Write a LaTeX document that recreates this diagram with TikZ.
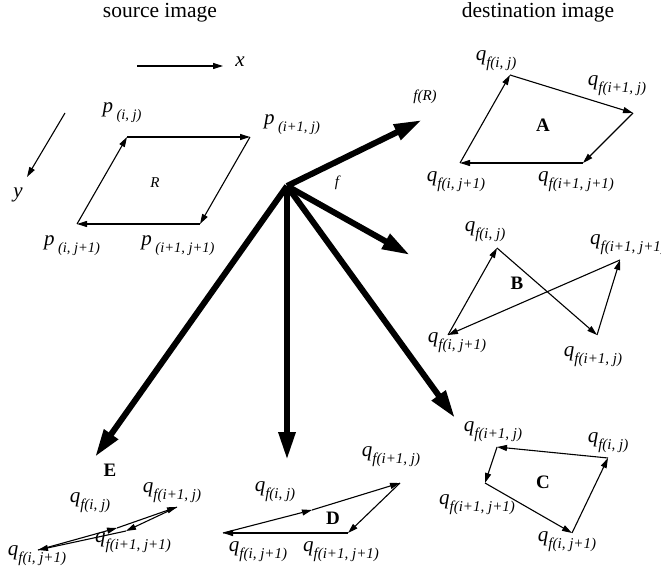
\documentclass[tikz,border=0pt]{standalone}
\usepackage{fontspec}
\setmainfont{Liberation Serif}
\usetikzlibrary{arrows.meta}
\newcommand{\qf}[1]{\textit{q}\raisebox{-7pt}{\fontsize{15}{15}\selectfont\textit{f(#1)}}}
\newcommand{\pix}[1]{\textit{p}\,\raisebox{-7pt}{\fontsize{14.5}{15}\selectfont\textit{(#1)}}}

\begin{document}
\begin{tikzpicture}[x=1pt,y=-1pt,
lbl/.style={inner sep=0pt, font=\fontsize{21}{22}\selectfont},
title/.style={inner sep=0pt, anchor=base, font=\fontsize{21.5}{22}\selectfont},
tag/.style={inner sep=0pt, font=\fontsize{19}{20}\selectfont\bfseries},
small/.style={inner sep=0pt, font=\fontsize{15}{16}\selectfont\itshape},
edge/.style={-{Triangle[length=10pt,width=6pt]}, line width=1.1pt},
map/.style={-{Triangle[length=28pt,width=16pt]}, line width=6pt}
]
\useasboundingbox (0,0) rectangle (661,572);

\node[title] (src) at (160,18) {source image};
\node[title] (dst) at (538,18) {destination image};

\coordinate (x0) at (137,66);
\coordinate (x1) at (223,66);
\node[lbl, font=\fontsize{21}{22}\selectfont\itshape] (xl) at (240,62) {x};
\coordinate (y0) at (65,113);
\coordinate (y1) at (27,177);
\node[lbl, font=\fontsize{21}{22}\selectfont\itshape] (yl) at (18,195) {y};
\draw[edge] (x0) -- (x1);
\draw[edge] (y0) -- (y1);

\coordinate (p00) at (127,137);
\coordinate (p10) at (250,137);
\coordinate (p11) at (200,224);
\coordinate (p01) at (77,224);
\node[lbl] (lp00) at (122,113) {\pix{i, j}};
\node[lbl] (lp10) at (292,125) {\pix{i+1, j}};
\node[lbl] (lp01) at (72,246) {\pix{i, j+1}};
\node[lbl] (lp11) at (178,246) {\pix{i+1, j+1}};
\node[small] (r) at (155,183) {R};
\draw[edge] (p01) -- (p00);
\draw[edge] (p00) -- (p10);
\draw[edge] (p10) -- (p11);
\draw[edge] (p11) -- (p01);

\coordinate (fc) at (287,186);
\coordinate (ta) at (422,120);
\coordinate (tb) at (410,255);
\coordinate (tc) at (455,418);
\coordinate (td) at (287,460);
\coordinate (te) at (95,457);
\node[small] (fr) at (425,97) {f(R)};
\node[small] (fl) at (337,183) {f};
\draw[map] (fc) -- (ta);
\draw[map] (fc) -- (tb);
\draw[map] (fc) -- (tc);
\draw[map] (fc) -- (td);
\draw[map] (fc) -- (te);

\coordinate (a00) at (510,75);
\coordinate (a10) at (633,113);
\coordinate (a11) at (583,163);
\coordinate (a01) at (460,163);
\node[lbl] (la00) at (496,61) {\qf{i, j}};
\node[lbl] (la10) at (617,86) {\qf{i+1, j}};
\node[lbl] (la01) at (456,182) {\qf{i, j+1}};
\node[lbl] (la11) at (576,182) {\qf{i+1, j+1}};
\node[tag] (ta) at (543,125) {A};
\draw[edge] (a01) -- (a00);
\draw[edge] (a00) -- (a10);
\draw[edge] (a10) -- (a11);
\draw[edge] (a11) -- (a01);

\coordinate (b00) at (497,248);
\coordinate (b10) at (597,335);
\coordinate (b11) at (620,260);
\coordinate (b01) at (448,335);
\node[lbl] (lb00) at (485,232) {\qf{i, j}};
\node[lbl] (lb11) at (628,245) {\qf{i+1, j+1}};
\node[lbl] (lb01) at (457,343) {\qf{i, j+1}};
\node[lbl] (lb10) at (593,357) {\qf{i+1, j}};
\node[tag] (tb) at (517,283) {B};
\draw[edge] (b00) -- (b10);
\draw[edge] (b10) -- (b11);
\draw[edge] (b11) -- (b01);
\draw[edge] (b01) -- (b00);

\coordinate (c00) at (608,458);
\coordinate (c10) at (497,447);
\coordinate (c11) at (485,483);
\coordinate (c01) at (572,533);
\node[lbl] (lc10) at (493,432) {\qf{i+1, j}};
\node[lbl] (lc00) at (608,443) {\qf{i, j}};
\node[lbl] (lc11) at (477,505) {\qf{i+1, j+1}};
\node[lbl] (lc01) at (567,542) {\qf{i, j+1}};
\node[tag] (tc) at (543,482) {C};
\draw[edge] (c00) -- (c10);
\draw[edge] (c10) -- (c11);
\draw[edge] (c11) -- (c01);
\draw[edge] (c01) -- (c00);

\coordinate (d01) at (223,533);
\coordinate (d00) at (312,510);
\coordinate (d10) at (400,483);
\coordinate (d11) at (348,533);
\node[lbl] (ld00) at (275,492) {\qf{i, j}};
\node[lbl] (ld10) at (391,457) {\qf{i+1, j}};
\node[lbl] (ld01) at (258,552) {\qf{i, j+1}};
\node[lbl] (ld11) at (341,552) {\qf{i+1, j+1}};
\node[tag] (td) at (333,518) {D};
\draw[edge] (d01) -- (d00);
\draw[edge] (d00) -- (d10);
\draw[edge] (d10) -- (d11);
\draw[edge] (d11) -- (d01);

\coordinate (e01) at (38,550);
\coordinate (e00) at (117,528);
\coordinate (e10) at (177,507);
\coordinate (e11) at (126,531);
\node[lbl] (le00) at (90,503) {\qf{i, j}};
\node[lbl] (le10) at (172,493) {\qf{i+1, j}};
\node[lbl] (le11) at (133,543) {\qf{i+1, j+1}};
\node[lbl] (le01) at (37,556) {\qf{i, j+1}};
\node[tag] (te) at (110,470) {E};
\draw[edge] (e01) -- (e00);
\draw[edge] (e00) -- (e10);
\draw[edge] (e10) -- (e11);
\draw[edge] (e11) -- (e01);

\end{tikzpicture}
\end{document}
